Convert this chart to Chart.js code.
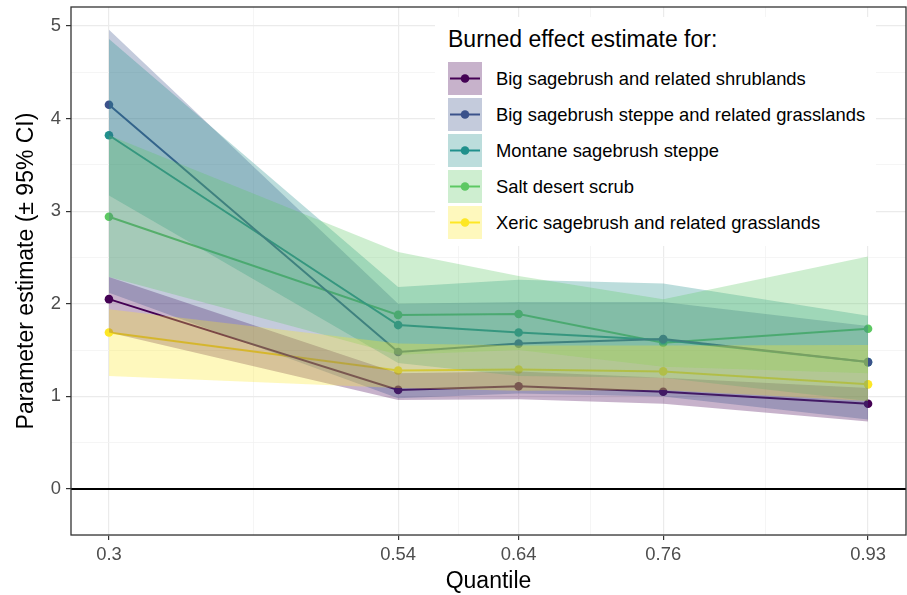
<!DOCTYPE html>
<html>
<head>
<meta charset="utf-8">
<script src="https://cdn.jsdelivr.net/npm/chart.js@4"></script>
<style>
  html, body { margin: 0; padding: 0; background: #fff; }
  #wrap { position: relative; width: 907px; height: 595px; font-family: "Liberation Sans", Arial, sans-serif; }
  #legend { position: absolute; left: 435px; top: 17px; width: 441px; height: 229px; background: #fff; }
  #legend .title { position: absolute; left: 13px; top: 9px; font-size: 23px; line-height: 26px; color: #000; white-space: nowrap; }
  #legend .item { position: absolute; left: 13px; height: 33px; }
  #legend .key { position: absolute; left: 0; top: 0; width: 34px; height: 33px; }
  #legend .lab { position: absolute; left: 48px; top: 0; height: 33px; line-height: 33px; font-size: 18.4px; color: #000; white-space: nowrap; }
</style>
</head>
<body>
<div id="wrap">
  <canvas id="c" width="907" height="595"></canvas>
  <div id="legend"></div>
</div>
<script>
// ---- data ----
const quantiles = [0.3, 0.54, 0.64, 0.76, 0.93];
const xTickLabels = ['0.3', '0.54', '0.64', '0.76', '0.93'];
const xMinorBreaks = [0.42, 0.59, 0.70, 0.845];
const yTickValues = [0, 1, 2, 3, 4, 5];
const yTickLabels = ['0', '1', '2', '3', '4', '5'];
const yMinorBreaks = [-0.5, 0.5, 1.5, 2.5, 3.5, 4.5];

const legendTitle = 'Burned effect estimate for:';
const seriesNames = [
  'Big sagebrush and related shrublands',
  'Big sagebrush steppe and related grasslands',
  'Montane sagebrush steppe',
  'Salt desert scrub',
  'Xeric sagebrush and related grasslands'
];

const shrubEst   = [2.05, 1.07, 1.11, 1.05, 0.92];
const shrubLow   = [1.69, 0.96, 0.97, 0.92, 0.73];
const shrubHigh  = [2.29, 1.25, 1.27, 1.20, 1.09];

const steppeEst  = [4.15, 1.48, 1.57, 1.62, 1.37];
const steppeLow  = [2.12, 0.98, 1.03, 1.00, 0.75];
const steppeHigh = [4.96, 2.00, 2.02, 2.02, 1.76];

const montaneEst  = [3.82, 1.77, 1.69, 1.61, 1.37];
const montaneLow  = [3.17, 1.36, 1.22, 1.20, 0.95];
const montaneHigh = [4.86, 2.18, 2.26, 2.22, 1.87];

const saltEst  = [2.94, 1.88, 1.89, 1.58, 1.73];
const saltLow  = [2.29, 1.45, 1.50, 1.32, 1.25];
const saltHigh = [3.82, 2.56, 2.30, 2.05, 2.51];

const xericEst  = [1.69, 1.28, 1.29, 1.27, 1.13];
const xericLow  = [1.22, 1.09, 1.06, 1.07, 0.95];
const xericHigh = [1.94, 1.57, 1.55, 1.55, 1.555];

const estimates = [shrubEst, steppeEst, montaneEst, saltEst, xericEst];
const lows = [shrubLow, steppeLow, montaneLow, saltLow, xericLow];
const highs = [shrubHigh, steppeHigh, montaneHigh, saltHigh, xericHigh];

// ---- style ----
const colors = ['#440154', '#3B528B', '#21908C', '#5DC863', '#FDE725'];
const fillAlpha = 0.3;
function rgba(hex, a) {
  const n = parseInt(hex.slice(1), 16);
  return `rgba(${(n >> 16) & 255},${(n >> 8) & 255},${n & 255},${a})`;
}
const pts = arr => arr.map((v, i) => ({ x: quantiles[i], y: v }));

const datasets = [];
// lines + points (drawn first, beneath ribbons)
estimates.forEach((est, k) => {
  datasets.push({
    label: seriesNames[k],
    data: pts(est),
    borderColor: colors[k],
    backgroundColor: colors[k],
    borderWidth: 2,
    pointRadius: 4.3,
    pointBorderWidth: 0,
    pointBackgroundColor: colors[k],
    fill: false,
    order: 10
  });
});
// ribbons
highs.forEach((hi, k) => {
  datasets.push({
    label: seriesNames[k] + ' upper',
    data: pts(hi),
    borderWidth: 0,
    pointRadius: 0,
    backgroundColor: rgba(colors[k], fillAlpha),
    fill: '+1',
    order: 5 - k
  });
  datasets.push({
    label: seriesNames[k] + ' lower',
    data: pts(lows[k]),
    borderWidth: 0,
    pointRadius: 0,
    fill: false,
    order: 5 - k
  });
});

const fontFamily = '"Liberation Sans", Arial, sans-serif';
const xMajorSet = new Set(quantiles);
const yMajorSet = new Set(yTickValues);
const PANEL_RIGHT = 906;

const panelPlugin = {
  id: 'panel',
  afterLayout(chart) {
    const a = chart.chartArea;
    if (a.right !== PANEL_RIGHT) {
      a.right = PANEL_RIGHT;
      a.width = PANEL_RIGHT - a.left;
      const xs = chart.scales.x;
      xs.right = PANEL_RIGHT;
      xs.width = PANEL_RIGHT - xs.left;
      xs.configure();
    }
  },
  afterDatasetsDraw(chart) {
    const { ctx, chartArea: a, scales } = chart;
    const y0 = scales.y.getPixelForValue(0);
    ctx.save();
    ctx.strokeStyle = '#000';
    ctx.lineWidth = 2;
    ctx.beginPath();
    ctx.moveTo(a.left, y0);
    ctx.lineTo(a.right, y0);
    ctx.stroke();
    ctx.restore();
  },
  afterDraw(chart) {
    const { ctx, chartArea: a } = chart;
    ctx.save();
    ctx.strokeStyle = '#333333';
    ctx.lineWidth = 1.3;
    ctx.strokeRect(a.left, a.top, a.right - a.left, a.bottom - a.top);
    ctx.restore();
  }
};

new Chart(document.getElementById('c'), {
  type: 'line',
  data: { datasets },
  plugins: [panelPlugin],
  options: {
    responsive: false,
    animation: false,
    devicePixelRatio: 1,
    layout: { padding: { top: 7, right: 1, left: 0, bottom: 0 } },
    elements: { line: { tension: 0 } },
    plugins: {
      legend: { display: false },
      tooltip: { enabled: false },
      filler: { propagate: false }
    },
    scales: {
      x: {
        type: 'linear',
        min: 0.2685,
        max: 0.9615,
        afterFit: s => { s.height = 60; s.paddingLeft = 0; s.paddingRight = 0; },
        afterBuildTicks: s => {
          s.ticks = quantiles.concat(xMinorBreaks).sort((a, b) => a - b).map(v => ({ value: v }));
        },
        ticks: {
          autoSkip: false,
          maxRotation: 0,
          padding: 4,
          color: '#4D4D4D',
          font: { family: fontFamily, size: 18.4 },
          callback: v => {
            const i = quantiles.indexOf(v);
            return i >= 0 ? xTickLabels[i] : '';
          }
        },
        grid: {
          color: c => (c.tick && xMajorSet.has(c.tick.value)) ? '#EBEBEB' : '#F2F2F2',
          lineWidth: c => (c.tick && xMajorSet.has(c.tick.value)) ? 1.2 : 0.8,
          tickColor: c => (c.tick && xMajorSet.has(c.tick.value)) ? '#333333' : 'rgba(0,0,0,0)',
          tickLength: 5,
          tickWidth: 1.2
        },
        border: { display: false },
        title: {
          display: true,
          text: 'Quantile',
          color: '#000',
          font: { family: fontFamily, size: 23 },
          padding: { top: 0, bottom: 0 }
        }
      },
      y: {
        type: 'linear',
        min: -0.497,
        max: 5.205,
        afterFit: s => { s.width = 71; s.paddingTop = 0; s.paddingBottom = 0; },
        afterBuildTicks: s => {
          s.ticks = yTickValues.concat(yMinorBreaks).sort((a, b) => a - b).map(v => ({ value: v }));
        },
        ticks: {
          autoSkip: false,
          padding: 5,
          color: '#4D4D4D',
          font: { family: fontFamily, size: 18.4 },
          callback: v => {
            const i = yTickValues.indexOf(v);
            return i >= 0 ? yTickLabels[i] : '';
          }
        },
        grid: {
          color: c => (c.tick && yMajorSet.has(c.tick.value)) ? '#EBEBEB' : '#F2F2F2',
          lineWidth: c => (c.tick && yMajorSet.has(c.tick.value)) ? 1.2 : 0.8,
          tickColor: c => (c.tick && yMajorSet.has(c.tick.value)) ? '#333333' : 'rgba(0,0,0,0)',
          tickLength: 5,
          tickWidth: 1.2
        },
        border: { display: false },
        title: {
          display: true,
          text: 'Parameter estimate (± 95% CI)',
          color: '#000',
          font: { family: fontFamily, size: 23 },
          padding: { top: 13, bottom: 0 }
        }
      }
    }
  }
});

// ---- legend (HTML, real text) ----
const lg = document.getElementById('legend');
const t = document.createElement('div');
t.className = 'title';
t.textContent = legendTitle;
lg.appendChild(t);
seriesNames.forEach((name, k) => {
  const item = document.createElement('div');
  item.className = 'item';
  item.style.top = (45 + k * 36) + 'px';
  const key = document.createElement('canvas');
  key.className = 'key';
  key.width = 34; key.height = 33;
  const kc = key.getContext('2d');
  kc.fillStyle = rgba(colors[k], fillAlpha);
  kc.fillRect(0, 0, 34, 33);
  kc.strokeStyle = colors[k];
  kc.lineWidth = 2;
  kc.beginPath(); kc.moveTo(2, 16.5); kc.lineTo(32, 16.5); kc.stroke();
  kc.fillStyle = colors[k];
  kc.beginPath(); kc.arc(17, 16.5, 4.3, 0, Math.PI * 2); kc.fill();
  item.appendChild(key);
  const lab = document.createElement('div');
  lab.className = 'lab';
  lab.textContent = name;
  item.appendChild(lab);
  lg.appendChild(item);
});
</script>
</body>
</html>
